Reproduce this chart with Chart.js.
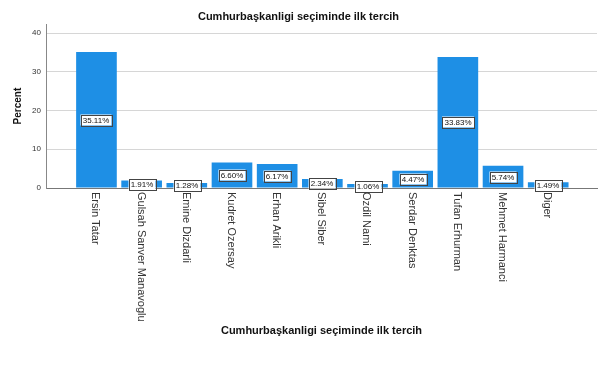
<!DOCTYPE html>
<html>
<head>
<meta charset="utf-8">
<title>Cumhurbaşkanligi seçiminde ilk tercih</title>
<script src="https://cdn.jsdelivr.net/npm/chart.js@4"></script>
<style>
  html, body { margin: 0; padding: 0; background: #fff; }
  #wrap { width: 605px; height: 385px; position: relative; }
</style>
</head>
<body>
<div id="wrap"><canvas id="chart"></canvas></div>
<script>
// ---- data ----
const categories = [
    'Ersin Tatar', 'Gulsah Sanver Manavoglu', 'Emine Dizdarli', 'Kudret Ozersay',
    'Erhan Arikli', 'Sibel Siber', 'Ozdil Nami', 'Serdar Denktas',
    'Tufan Erhurman', 'Mehmet Harmanci', 'Diger'
];
const percents = [35.11, 1.91, 1.28, 6.60, 6.17, 2.34, 1.06, 4.47, 33.83, 5.74, 1.49];
const yTicks = [0, 10, 20, 30, 40];

const chartTitle = 'Cumhurbaşkanligi seçiminde ilk tercih';
const barColor = '#1e8fe5';

// ---- plugins ----
// boxed percent labels in the middle of each bar
const barLabels = {
    id: 'barLabels',
    afterDatasetsDraw(chart) {
        const ctx = chart.ctx;
        const meta = chart.getDatasetMeta(0);
        ctx.save();
        ctx.font = '8px Arial, "Liberation Sans", sans-serif';
        ctx.textAlign = 'center';
        ctx.textBaseline = 'middle';
        meta.data.forEach((bar, i) => {
            const text = percents[i].toFixed(2) + '%';
            const cx = Math.round(bar.x);
            const cy = Math.round((bar.y + bar.base) / 2);
            const w = Math.ceil(ctx.measureText(text).width) + 4;
            const h = 11;
            ctx.fillStyle = '#fff';
            ctx.fillRect(cx - w / 2, cy - h / 2, w, h);
            ctx.strokeStyle = '#444';
            ctx.lineWidth = 1;
            ctx.strokeRect(Math.round(cx - w / 2) + 0.5, Math.round(cy - h / 2) + 0.5, w, h);
            ctx.fillStyle = '#111';
            ctx.fillText(text, cx, cy + 0.5);
        });
        ctx.restore();
    }
};

// category names, rotated to read top-to-bottom under the axis
const xNames = {
    id: 'xNames',
    afterDraw(chart) {
        const ctx = chart.ctx;
        const xs = chart.scales.x;
        ctx.save();
        ctx.font = '11px Arial, "Liberation Sans", sans-serif';
        ctx.fillStyle = '#333';
        ctx.textAlign = 'left';
        ctx.textBaseline = 'middle';
        categories.forEach((name, i) => {
            ctx.save();
            ctx.translate(xs.getPixelForValue(i) - 1, chart.chartArea.bottom + 4);
            ctx.rotate(Math.PI / 2);
            ctx.fillText(name, 0, 0);
            ctx.restore();
        });
        ctx.restore();
    }
};

// ---- chart ----
const ctx = document.getElementById('chart').getContext('2d');
new Chart(ctx, {
    type: 'bar',
    data: {
        datasets: [{
            data: percents.map((v, i) => ({ x: i, y: v })),
            backgroundColor: barColor,
            borderWidth: 0,
            barPercentage: 0.9,
            categoryPercentage: 1.0
        }]
    },
    options: {
        responsive: true,
        maintainAspectRatio: false,
        animation: false,
        layout: { padding: { left: 0, right: 8, top: 0, bottom: 0 } },
        plugins: {
            legend: { display: false },
            tooltip: { enabled: false },
            title: {
                display: true,
                text: chartTitle,
                color: '#111',
                font: { family: 'Arial, "Liberation Sans", sans-serif', size: 11, weight: 'bold' },
                padding: { top: 10, bottom: 1 }
            }
        },
        scales: {
            x: {
                type: 'linear',
                offset: false,
                min: -1.117,
                max: 11.08,
                grid: { display: false, offset: false },
                border: { display: true, color: '#777', width: 1 },
                ticks: { display: false },
                afterFit(scale) { scale.height = 197; },
                title: {
                    display: true,
                    text: chartTitle,
                    color: '#111',
                    font: { family: 'Arial, "Liberation Sans", sans-serif', size: 11, weight: 'bold' },
                    padding: { top: 0, bottom: 47 }
                }
            },
            y: {
                min: 0,
                max: 42.3,
                afterBuildTicks(scale) { scale.ticks = yTicks.map(v => ({ value: v })); },
                afterFit(scale) { scale.width = 46; },
                grid: { color: '#d6d6d6', drawTicks: false },
                border: { display: true, color: '#888', width: 1 },
                ticks: {
                    color: '#333',
                    padding: 5,
                    font: { family: 'Arial, "Liberation Sans", sans-serif', size: 8 }
                },
                title: {
                    display: true,
                    text: 'Percent',
                    color: '#111',
                    font: { family: 'Arial, "Liberation Sans", sans-serif', size: 10, weight: 'bold' },
                    padding: { top: 12, bottom: 0 }
                }
            }
        }
    },
    plugins: [barLabels, xNames]
});
</script>
</body>
</html>
